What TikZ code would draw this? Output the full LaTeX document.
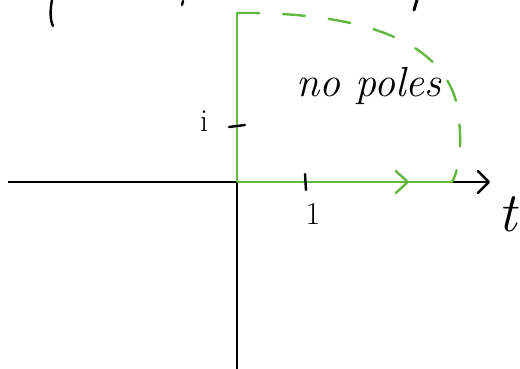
\documentclass[tikz,border=0pt]{standalone}
\usepackage{xcolor}
\usetikzlibrary{arrows.meta,decorations.markings,calc}
\definecolor{penGreen}{RGB}{96,184,64}
\tikzstyle{axis}=[line width=2.6pt,black]
\tikzstyle{path green}=[line width=2.6pt,penGreen]
\tikzstyle{contour}=[line width=2.4pt,penGreen,line cap=round,dash pattern=on 22pt off 24pt]
\tikzstyle{ink}=[line width=2.4pt,black,line cap=round]
\tikzstyle{hand}=[inner sep=0pt,font=\itshape]
\tikzstyle{mid arrow}=[postaction={decorate},decoration={markings,
	mark=at position 0.8 with {\arrow[penGreen]{Straight Barb[length=12pt,width=22pt,line width=2.4pt,round]}}}]

\begin{document}
\begin{tikzpicture}[x=1pt,y=-1pt]
	\useasboundingbox (0,0) rectangle (520,369);
	% points
	\coordinate (O) at (237,182);
	\coordinate (xl) at (8,182);
	\coordinate (xr) at (490,182);
	\coordinate (yb) at (237,369);
	\coordinate (yt) at (237,13);
	\coordinate (R) at (452,182);
	% axes
	\draw [axis] (xl) to (O);
	\draw [axis] (O) to (yb);
	\draw [axis, -{Straight Barb[length=11pt,width=22pt,line width=2.4pt,round]}] (R) to (xr);
	% contour
	\draw [path green] (O) to (yt);
	\draw [path green, mid arrow] (O) to (R);
	\draw [contour] (yt) .. controls (335,12) and (440,30) .. (457,105)
		.. controls (463,140) and (460,168) .. (R);
	% ticks
	\draw [ink] ($(O)+(68,-8)$) to ($(O)+(69,8)$);
	\draw [ink] ($(O)+(-8,-55)$) to ($(O)+(8,-57)$);
	% labels
	\node [hand] (one) at (313,214) {\fontsize{32}{32}\selectfont\upshape 1};
	\node [hand] (im) at (204,121) {\fontsize{32}{32}\selectfont\upshape i};
	\node [hand] (lbl) at (369,86) {\fontsize{42}{44}\selectfont no poles};
	\node [hand] (t) at (508,214) {\fontsize{56}{56}\selectfont t};
	% cut-off strokes along top edge
	\draw [ink] (52,0) .. controls (50,10) and (50,20) .. (53,26);
	\draw [ink] (183,1) to (182,5);
	\draw [ink, line width=3pt] (417,0) to (414,10);
\end{tikzpicture}
\end{document}
